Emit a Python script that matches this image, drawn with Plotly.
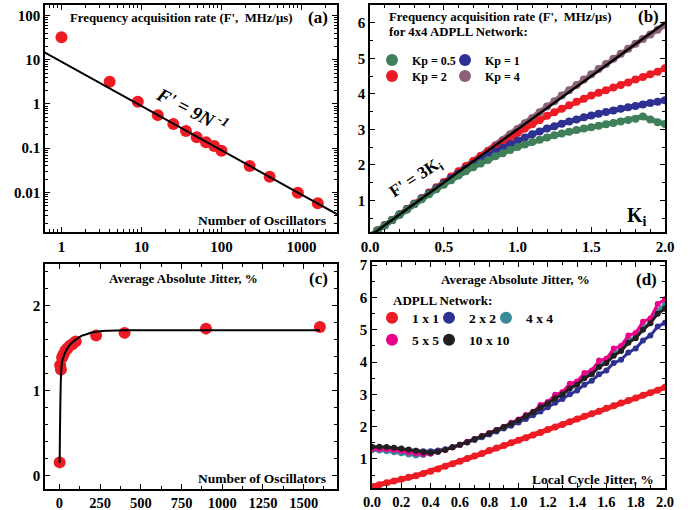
import plotly.graph_objects as go

W, H = 699, 510
def px(x): return x / W
def py(y): return 1 - y / H

FONT = "Liberation Serif"
RED = "#ED1C24"

# ---------------- Panel (a) ----------------
n_a = [1, 4, 9, 16, 25, 36, 49, 64, 81, 100, 225, 400, 900, 1600]
f_a = [32.2, 3.19, 1.13, 0.56, 0.353, 0.245, 0.177, 0.136, 0.112, 0.088, 0.0397, 0.0228, 0.0099, 0.0057]
fit_n_a = [0.6, 2800]
fit_f_a = [15.0, 0.0032]

# ---------------- Panel (b) ----------------
ki_b = [0.0, 0.05, 0.1, 0.15, 0.2, 0.25, 0.3, 0.35, 0.4, 0.45, 0.5, 0.55, 0.6, 0.65, 0.7, 0.75, 0.8,
        0.85, 0.9, 0.95, 1.0, 1.05, 1.1, 1.15, 1.2, 1.25, 1.3, 1.35, 1.4, 1.45, 1.5, 1.55, 1.6,
        1.65, 1.7, 1.75, 1.8, 1.85, 1.9, 1.95, 2.0]
kp4_b = [0.0, 0.15, 0.3, 0.45, 0.6, 0.75, 0.9, 1.05, 1.2, 1.35, 1.5, 1.65, 1.8, 1.95, 2.1, 2.25, 2.4,
         2.55, 2.7, 2.86, 3.01, 3.17, 3.32, 3.48, 3.64, 3.79, 3.95, 4.1, 4.25, 4.4, 4.55, 4.7, 4.84,
         4.99, 5.13, 5.27, 5.41, 5.54, 5.67, 5.8, 5.93]
kp2_b = [0.0, 0.15, 0.3, 0.45, 0.6, 0.76, 0.91, 1.06, 1.22, 1.37, 1.52, 1.67, 1.82, 1.97, 2.11, 2.25, 2.38,
         2.51, 2.64, 2.77, 2.9, 3.02, 3.14, 3.26, 3.38, 3.48, 3.58, 3.68, 3.78, 3.86, 3.95, 4.03, 4.1,
         4.18, 4.25, 4.32, 4.4, 4.47, 4.55, 4.62, 4.72]
kp1_b = [0.0, 0.15, 0.3, 0.45, 0.6, 0.75, 0.9, 1.05, 1.2, 1.34, 1.48, 1.62, 1.76, 1.89, 2.02, 2.14, 2.26,
         2.37, 2.48, 2.58, 2.68, 2.77, 2.86, 2.94, 3.02, 3.09, 3.16, 3.22, 3.28, 3.34, 3.39, 3.44, 3.49,
         3.53, 3.58, 3.62, 3.66, 3.7, 3.74, 3.78, 3.82]
kp05_b = [0.0, 0.15, 0.3, 0.45, 0.6, 0.74, 0.89, 1.03, 1.17, 1.31, 1.44, 1.57, 1.7, 1.82, 1.93, 2.04, 2.14,
          2.24, 2.33, 2.42, 2.5, 2.57, 2.64, 2.71, 2.77, 2.83, 2.88, 2.93, 2.98, 3.02, 3.06, 3.1, 3.14,
          3.18, 3.22, 3.26, 3.3, 3.36, 3.28, 3.2, 3.15]
fit_ki_b = [0.0, 2.0]
fit_f_b = [0.0, 6.0]

# ---------------- Panel (c) ----------------
n_c = [1, 4, 9, 16, 25, 36, 49, 64, 81, 100, 225, 400, 900, 1600]
j_c = [0.157, 1.30, 1.25, 1.39, 1.43, 1.47, 1.50, 1.53, 1.55, 1.58, 1.65, 1.68, 1.73, 1.75]
fit_n_c = [1, 10, 16, 25, 40, 60, 80, 100, 130, 160, 200, 250, 300, 400, 600, 1000, 1600]
fit_j_c = [0.15, 1.2, 1.34, 1.40, 1.47, 1.53, 1.57, 1.60, 1.64, 1.66, 1.685, 1.70, 1.705, 1.71, 1.71, 1.71, 1.71]

# ---------------- Panel (d) ----------------
x_d = ki_b
net1_d = [0.15, 0.2, 0.26, 0.32, 0.37, 0.43, 0.48, 0.55, 0.62, 0.69, 0.77, 0.85, 0.93, 1.01, 1.09, 1.17, 1.26,
          1.34, 1.42, 1.5, 1.58, 1.66, 1.74, 1.82, 1.91, 1.99, 2.07, 2.15, 2.24, 2.32, 2.4, 2.48, 2.57,
          2.65, 2.73, 2.81, 2.89, 2.97, 3.05, 3.13, 3.22]
net2_d = [1.33, 1.33, 1.32, 1.31, 1.29, 1.27, 1.25, 1.24, 1.24, 1.26, 1.3, 1.36, 1.43, 1.51, 1.59, 1.67, 1.76,
          1.85, 1.94, 2.03, 2.13, 2.24, 2.35, 2.47, 2.6, 2.74, 2.86, 3.0, 3.12, 3.3, 3.42, 3.62, 3.74,
          3.97, 4.07, 4.3, 4.42, 4.67, 4.82, 5.1, 5.22]
net4_d = [1.27, 1.26, 1.24, 1.21, 1.18, 1.14, 1.11, 1.12, 1.16, 1.22, 1.29, 1.36, 1.44, 1.52, 1.61, 1.70, 1.79,
          1.89, 1.99, 2.10, 2.21, 2.34, 2.45, 2.62, 2.74, 2.92, 3.02, 3.25, 3.33, 3.58, 3.66, 3.94, 4.02,
          4.3, 4.38, 4.68, 4.78, 5.08, 5.2, 5.6, 5.8]
net5_d = [1.31, 1.31, 1.3, 1.28, 1.25, 1.21, 1.17, 1.15, 1.17, 1.22, 1.28, 1.36, 1.44, 1.53, 1.62, 1.71, 1.8,
          1.9, 2.0, 2.12, 2.22, 2.36, 2.46, 2.67, 2.76, 2.99, 3.07, 3.33, 3.4, 3.66, 3.74, 4.05, 4.1,
          4.42, 4.5, 4.82, 4.9, 5.25, 5.35, 5.8, 5.95]
net10_d = [1.38, 1.38, 1.37, 1.35, 1.32, 1.29, 1.25, 1.21, 1.19, 1.22, 1.28, 1.36, 1.44, 1.52, 1.61, 1.70, 1.79,
           1.89, 1.99, 2.09, 2.2, 2.32, 2.45, 2.6, 2.72, 2.88, 3.0, 3.18, 3.3, 3.5, 3.62, 3.85, 3.97,
           4.2, 4.34, 4.6, 4.74, 5.0, 5.2, 5.5, 5.65]

fig = go.Figure()

# (a)
fig.add_trace(go.Scatter(x=n_a, y=f_a, mode="markers", marker=dict(color=RED, size=12),
                         xaxis="x", yaxis="y", showlegend=False))
fig.add_trace(go.Scatter(x=fit_n_a, y=fit_f_a, mode="lines", line=dict(color="black", width=2),
                         xaxis="x", yaxis="y", showlegend=False))

# (b)  legend key positions (reference px of key centre)
b_series = [
    ("Kp = 4", kp4_b, "#8C6077", "legend4", (468, 76)),
    ("Kp = 2", kp2_b, RED, "legend3", (395, 76)),
    ("Kp = 1", kp1_b, "#2E3192", "legend2", (468, 60)),
    ("Kp = 0.5", kp05_b, "#3F7F5A", "legend", (395, 60)),
]
for name, vals, col, lg, _ in b_series:
    fig.add_trace(go.Scatter(x=ki_b, y=vals, mode="lines", line=dict(color=col, width=5),
                             xaxis="x2", yaxis="y2", showlegend=False, hoverinfo="skip"))
    fig.add_trace(go.Scatter(x=ki_b, y=vals, mode="markers", name=name,
                             marker=dict(color=col, size=8), xaxis="x2", yaxis="y2",
                             legend=lg))
fig.add_trace(go.Scatter(x=fit_ki_b, y=fit_f_b, mode="lines", line=dict(color="black", width=2.5),
                         xaxis="x2", yaxis="y2", showlegend=False))

# (c)
fig.add_trace(go.Scatter(x=n_c, y=j_c, mode="markers", marker=dict(color=RED, size=12),
                         xaxis="x3", yaxis="y3", showlegend=False))
fig.add_trace(go.Scatter(x=fit_n_c, y=fit_j_c, mode="lines", line=dict(color="black", width=2, shape="spline"),
                         xaxis="x3", yaxis="y3", showlegend=False))

# (d)
d_series = [
    ("1 x 1", net1_d, RED, "legend5", (395, 318)),
    ("2 x 2", net2_d, "#2E3192", "legend6", (452, 318)),
    ("4 x 4", net4_d, "#3A8A9C", "legend7", (509, 318)),
    ("5 x 5", net5_d, "#EC008C", "legend8", (395, 340)),
    ("10 x 10", net10_d, "#231F20", "legend9", (452, 340)),
]
for name, vals, col, lg, _ in d_series:
    lw = 5 if name == "1 x 1" else 3
    fig.add_trace(go.Scatter(x=x_d, y=vals, mode="lines", line=dict(color=col, width=lw),
                             xaxis="x4", yaxis="y4", showlegend=False, hoverinfo="skip"))
    fig.add_trace(go.Scatter(x=x_d, y=vals, mode="markers", name=name,
                             marker=dict(color=col, size=7 if name == "1 x 1" else 6),
                             xaxis="x4", yaxis="y4", legend=lg))

tickfont = dict(family=FONT, size=15, color="black", weight="bold")
def minor(dt, n=3):
    return dict(ticks="inside", ticklen=n, tickwidth=1, tickcolor="black", dtick=dt, showgrid=False)
def ax(**kw):
    d = dict(showline=True, linecolor="black", linewidth=1.6, mirror="allticks", ticks="inside",
             ticklen=5, tickwidth=1.3, tickcolor="black", showgrid=False, zeroline=False,
             tickfont=tickfont, automargin=False)
    d.update(kw)
    return d

xa = (px(45), px(337))
xb = (px(370), px(665))
ya = (py(232), py(5))
yc = (py(489), py(264))
xd = (px(372), px(665))
yd = (py(488), py(262))

layout = dict(
    width=W, height=H, margin=dict(l=0, r=0, t=0, b=0),
    paper_bgcolor="white", plot_bgcolor="white", showlegend=True,
    xaxis=ax(domain=list(xa), anchor="y", type="log", range=[-0.206, 3.444],
             tickvals=[1, 10, 100, 1000], ticktext=["1", "10", "100", "1000"], minor=minor("D1")),
    yaxis=ax(domain=list(ya), anchor="x", type="log", range=[-2.893, 2.237],
             tickvals=[0.01, 0.1, 1, 10, 100], ticktext=["0.01", "0.1", "1", "10", "100"],
             minor=minor("D1")),
    xaxis2=ax(domain=list(xb), anchor="y2", range=[0, 2.0], dtick=0.5, tickformat=".1f",
              minor=minor(0.1)),
    yaxis2=ax(domain=list(ya), anchor="x2", range=[0.11, 6.5], tickvals=[1, 2, 3, 4, 5, 6],
              minor=minor(0.5)),
    xaxis3=ax(domain=list(xa), anchor="y3", range=[-89, 1705], dtick=250, minor=minor(125),
              tickfont=dict(family=FONT, size=14.5, color="black", weight="bold")),
    yaxis3=ax(domain=list(yc), anchor="x3", range=[-0.156, 2.49], dtick=1, minor=minor(0.2)),
    xaxis4=ax(domain=list(xd), anchor="y4", range=[0, 2.0], dtick=0.2, tickformat=".1f",
              minor=minor(0.1),
              tickfont=dict(family=FONT, size=14.5, color="black", weight="bold")),
    yaxis4=ax(domain=list(yd), anchor="x4", range=[0.1, 7.1], tickvals=[1, 2, 3, 4, 5, 6, 7],
              minor=minor(0.5)),
)

def lg(xy, size):
    x, y = xy
    return dict(x=px(x - 23), y=py(y), xanchor="left", yanchor="middle", orientation="h",
                bgcolor="rgba(0,0,0,0)", font=dict(family=FONT, size=size, color="black", weight="bold"),
                itemsizing="constant", tracegroupgap=0, itemclick=False, itemdoubleclick=False)
for name, _, _, lgname, pos in b_series:
    layout[lgname] = lg(pos, 12)
for name, _, _, lgname, pos in d_series:
    layout[lgname] = lg(pos, 13.5)

def ann(text, x, y, size=12, xanchor="center", angle=0, italic=False):
    return dict(text=text, x=px(x), y=py(y), xref="paper", yref="paper", showarrow=False,
                xanchor=xanchor, yanchor="middle", textangle=angle,
                font=dict(family=FONT, size=size, color="black", weight="bold",
                          style="italic" if italic else "normal"))

layout["annotations"] = [
    ann("Frequency acquisition rate (F',  MHz/μs)", 181, 18, 12.8),
    ann("(a)", 318, 18, 17),
    ann("Number of Oscillators", 328, 220, 13.5, xanchor="right"),
    ann("F' = 9N<sup> -1</sup>", 192, 109, 19, angle=28, italic=True),
    ann("Frequency acquisition rate (F',  MHz/μs)", 387, 17, 12.8, xanchor="left"),
    ann("for 4x4 ADPLL Network:", 387, 32, 12.8, xanchor="left"),
    ann("(b)", 648, 17, 17),
    ann("F' = 3K<sub>i</sub>", 417, 178, 17, angle=-33),
    ann("K<sub>i</sub>", 637, 216, 20),
    ann("Average Absolute Jitter, %", 183, 278, 13),
    ann("(c)", 318, 278, 17),
    ann("Number of Oscillators", 328, 478, 13.5, xanchor="right"),
    ann("Average Absolute Jitter, %", 515, 279, 13),
    ann("(d)", 646, 279, 17),
    ann("ADPLL Network:", 391, 300, 13, xanchor="left"),
    ann("Local Cycle Jitter, %", 656, 479, 13.5, xanchor="right"),
]

fig.update_layout(**layout)
fig.write_html("out.html", config={"displayModeBar": False},
               post_script="document.body.style.margin='0';document.body.style.overflow='hidden';")
